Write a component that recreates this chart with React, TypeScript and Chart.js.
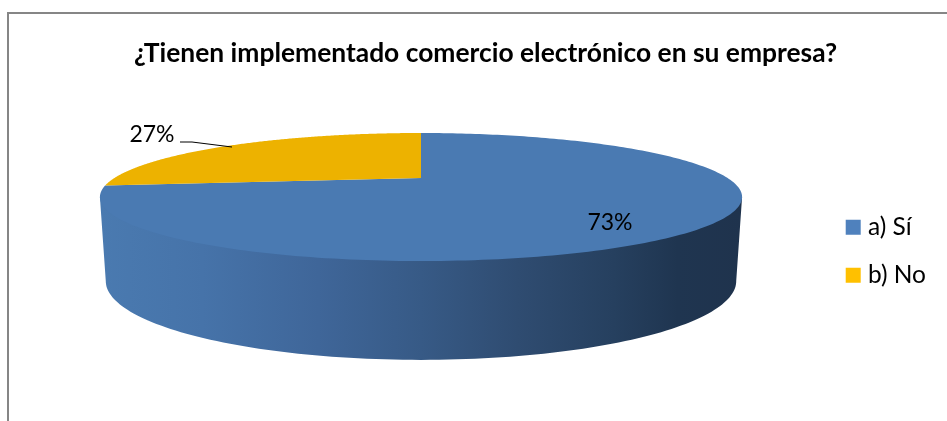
import React, { useEffect, useRef } from "react";
import { Chart, registerables } from "chart.js";

Chart.register(...registerables);

const titleText = "¿Tienen implementado comercio electrónico en su empresa?";
const categories = ["a) Sí", "b) No"];
const shares = [73, 27];
const legendColors = ["#4F81BD", "#FFC000"];
const faceColors = ["#4A7AB2", "#EDB200"];
const sideStops = [
  [0, "#4A7AB0"],
  [0.16, "#4673A9"],
  [0.34, "#3F6699"],
  [0.5, "#375A86"],
  [0.65, "#2F4C71"],
  [0.8, "#26405F"],
  [0.9, "#1F3550"],
  [1, "#1F334D"],
] as const;

const FONT = "Lato, 'Open Sans', sans-serif";
const CX = 421;
const C = -0.297;
const TOP = { r: 306.6, a: 5.5, b: 178 };
const BASE = { r: 301, a: -4.7, b: 257.7 };

type Layer = { r: number; a: number; b: number };
function project(l: Layer, t: number) {
  const u = Math.cos(t);
  const v = Math.sin(t);
  const d = 1 + C * v;
  return { x: CX + (l.r * u) / d, y: (l.a * v + l.b) / d };
}

const piePlugin = {
  id: "perspectivePie",
  beforeDraw(chart: any) {
    const { ctx, width, height } = chart;
    ctx.save();
    ctx.fillStyle = "#FFFFFF";
    ctx.fillRect(0, 0, width, height);
    ctx.strokeStyle = "#868686";
    ctx.lineWidth = 2;
    ctx.strokeRect(8, 13, width + 40, height + 40);
    ctx.restore();
  },
  beforeDatasetDraw(chart: any) {
    const { ctx } = chart;
    const arcs = chart.getDatasetMeta(0).data;
    // Front wall: the visible rim runs between the two silhouette tangents.
    const frontStart = Math.asin(-C);
    const frontEnd = Math.PI - frontStart;
    const grad = ctx.createLinearGradient(100, 0, 742, 0);
    sideStops.forEach(([o, c]) => grad.addColorStop(o, c));
    ctx.save();
    arcs.forEach((arc: any) => {
      for (const shift of [0, Math.PI * 2, -Math.PI * 2]) {
        const s = Math.max(arc.startAngle + shift, frontStart);
        const e = Math.min(arc.endAngle + shift, frontEnd);
        if (e <= s) continue;
        ctx.beginPath();
        const n = 120;
        const first = project(TOP, s);
        const last = project(TOP, e);
        ctx.moveTo(first.x, first.y);
        // run the wall's upper edge just beneath the top face to avoid a seam
        for (let i = 0; i <= n; i++) {
          const p = project(TOP, s + ((e - s) * i) / n);
          ctx.lineTo(CX + (p.x - CX) * 0.985, TOP.b + (p.y - TOP.b) * 0.985);
        }
        ctx.lineTo(last.x, last.y);
        for (let i = n; i >= 0; i--) {
          const p = project(BASE, s + ((e - s) * i) / n);
          ctx.lineTo(p.x, p.y);
        }
        ctx.closePath();
        ctx.fillStyle = grad;
        ctx.fill();
      }
    });
    // Top face
    arcs.forEach((arc: any, idx: number) => {
      ctx.beginPath();
      ctx.moveTo(CX, TOP.b);
      const n = 240;
      for (let i = 0; i <= n; i++) {
        const p = project(TOP, arc.startAngle + ((arc.endAngle - arc.startAngle) * i) / n);
        ctx.lineTo(p.x, p.y);
      }
      ctx.closePath();
      ctx.fillStyle = faceColors[idx];
      ctx.fill();
    });
    // Data labels
    ctx.fillStyle = "#000000";
    ctx.font = `23px ${FONT}`;
    ctx.textAlign = "center";
    ctx.textBaseline = "middle";
    ctx.fillText(`${shares[0]}%`, 610, 223);
    ctx.fillText(`${shares[1]}%`, 152, 135);
    ctx.strokeStyle = "#000000";
    ctx.lineWidth = 1;
    ctx.beginPath();
    ctx.moveTo(180, 142);
    ctx.lineTo(192, 142);
    ctx.lineTo(232, 147);
    ctx.stroke();
    ctx.restore();
    return false;
  },
};

export default function App() {
  const ref = useRef<HTMLCanvasElement | null>(null);
  useEffect(() => {
    const chart = new Chart(ref.current!, {
      type: "pie",
      data: {
        labels: categories,
        datasets: [{ data: shares, backgroundColor: legendColors, borderWidth: 0 }],
      },
      options: {
        responsive: false,
        animation: false,
        layout: { padding: { top: 38, right: 11, left: 35 } },
        plugins: {
          tooltip: { enabled: false },
          title: {
            display: true,
            text: titleText,
            color: "#000000",
            font: { family: FONT, size: 26.4, weight: "bold" },
            padding: { top: 0, bottom: 12 },
          },
          legend: {
            position: "right",
            align: "center",
            fullSize: false,
            labels: {
              color: "#000000",
              usePointStyle: true,
              pointStyle: "rect",
              boxWidth: 5,
              boxHeight: 15,
              padding: 23.5,
              font: { family: FONT, size: 24.5 },
            },
          },
        },
      },
      plugins: [piePlugin],
    } as any);
    return () => chart.destroy();
  }, []);
  return (
    <canvas
      ref={ref}
      width={947}
      height={421}
      style={{ position: "absolute", left: 0, top: 0, display: "block" }}
    />
  );
}
